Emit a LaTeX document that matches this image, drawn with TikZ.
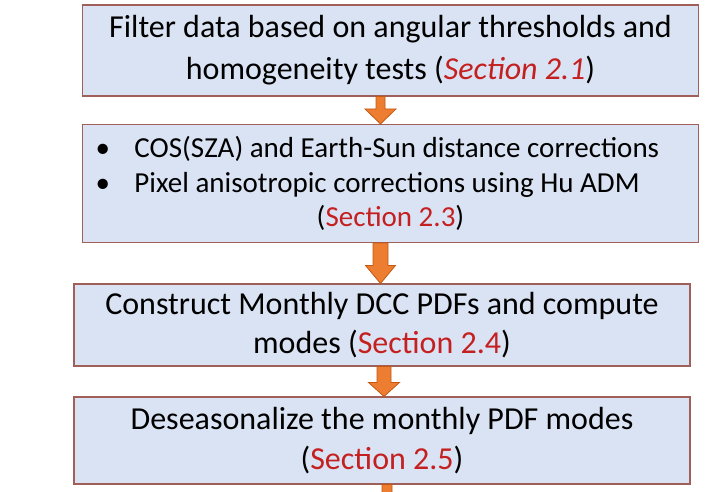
\documentclass[tikz,border=0pt]{standalone}
\usepackage{fontspec}
\setmainfont{Carlito}
\usepackage{xcolor}
\usepackage{tikz}
\usetikzlibrary{calc}

\definecolor{boxfill}{RGB}{218,227,243}
\definecolor{boxedge}{RGB}{160,95,88}
\definecolor{arrowfill}{RGB}{237,125,49}
\definecolor{arrowedge}{RGB}{196,89,17}
\definecolor{secred}{RGB}{196,32,32}

\newcommand{\secref}[1]{\textcolor{secred}{#1}}
\newcommand{\bulletline}[1]{\makebox[590pt][l]{\makebox[39pt][l]{\textbullet}#1}}

\begin{document}
\begin{tikzpicture}[x=1pt, y=-1pt,
  stepbox/.style={rectangle, draw=boxedge, fill=boxfill, line width=1.1pt, inner sep=0pt, minimum width=616pt, align=center, font=\fontsize{32}{42}\selectfont},
  blockarrow/.style n args={3}{fill=arrowfill, draw=arrowedge, line width=0.8pt,
    to path={let \p1=(\tikztostart), \p2=(\tikztotarget) in
      (\x1-#1,\y1) -- (\x1+#1,\y1) -- (\x1+#1,\y2+#3) -- (\x1+#2,\y2+#3) -- (\x1,\y2)
      -- (\x1-#2,\y2+#3) -- (\x1-#1,\y2+#3) -- cycle}}]

\fill[white] (0,0) rectangle (710,491);
\useasboundingbox (0,0) rectangle (710,491);

\node[stepbox, minimum height=91pt] (b1) at (390.5,50.5) {Filter data based on angular thresholds and\\homogeneity tests (\secref{\textit{Section 2.1}})};
\node[stepbox, minimum height=118pt, font=\fontsize{29}{34.5}\selectfont] (b2) at (390.5,183.5) {\bulletline{COS(SZA) and Earth-Sun distance corrections}\\
\bulletline{Pixel anisotropic corrections using Hu ADM}\\
(\secref{Section 2.3})};
\node[stepbox, minimum height=82pt, font=\fontsize{32}{39}\selectfont] (b3) at (382,325) {Construct Monthly DCC PDFs and compute\\modes (\secref{Section 2.4})};
\node[stepbox, minimum height=87pt, font=\fontsize{32}{40}\selectfont] (b4) at (382,440.5) {Deseasonalize the monthly PDF modes\\(\secref{Section 2.5})};

% arrows between the steps
\coordinate (next) at (387,530);
\draw[blockarrow={4.5pt}{15.5pt}{15pt}] ([xshift=-10pt]b1.south) to ([xshift=-10pt]b2.north);
\draw[blockarrow={7.5pt}{15pt}{18pt}] ([xshift=-10pt]b2.south) to ([xshift=-10pt]b3.north);
\draw[blockarrow={7pt}{15.5pt}{14pt}] ([xshift=2pt]b3.south) to ([xshift=2pt]b4.north);
\draw[blockarrow={5pt}{15.5pt}{15pt}] ([xshift=5pt]b4.south) to (next);

\end{tikzpicture}
\end{document}
